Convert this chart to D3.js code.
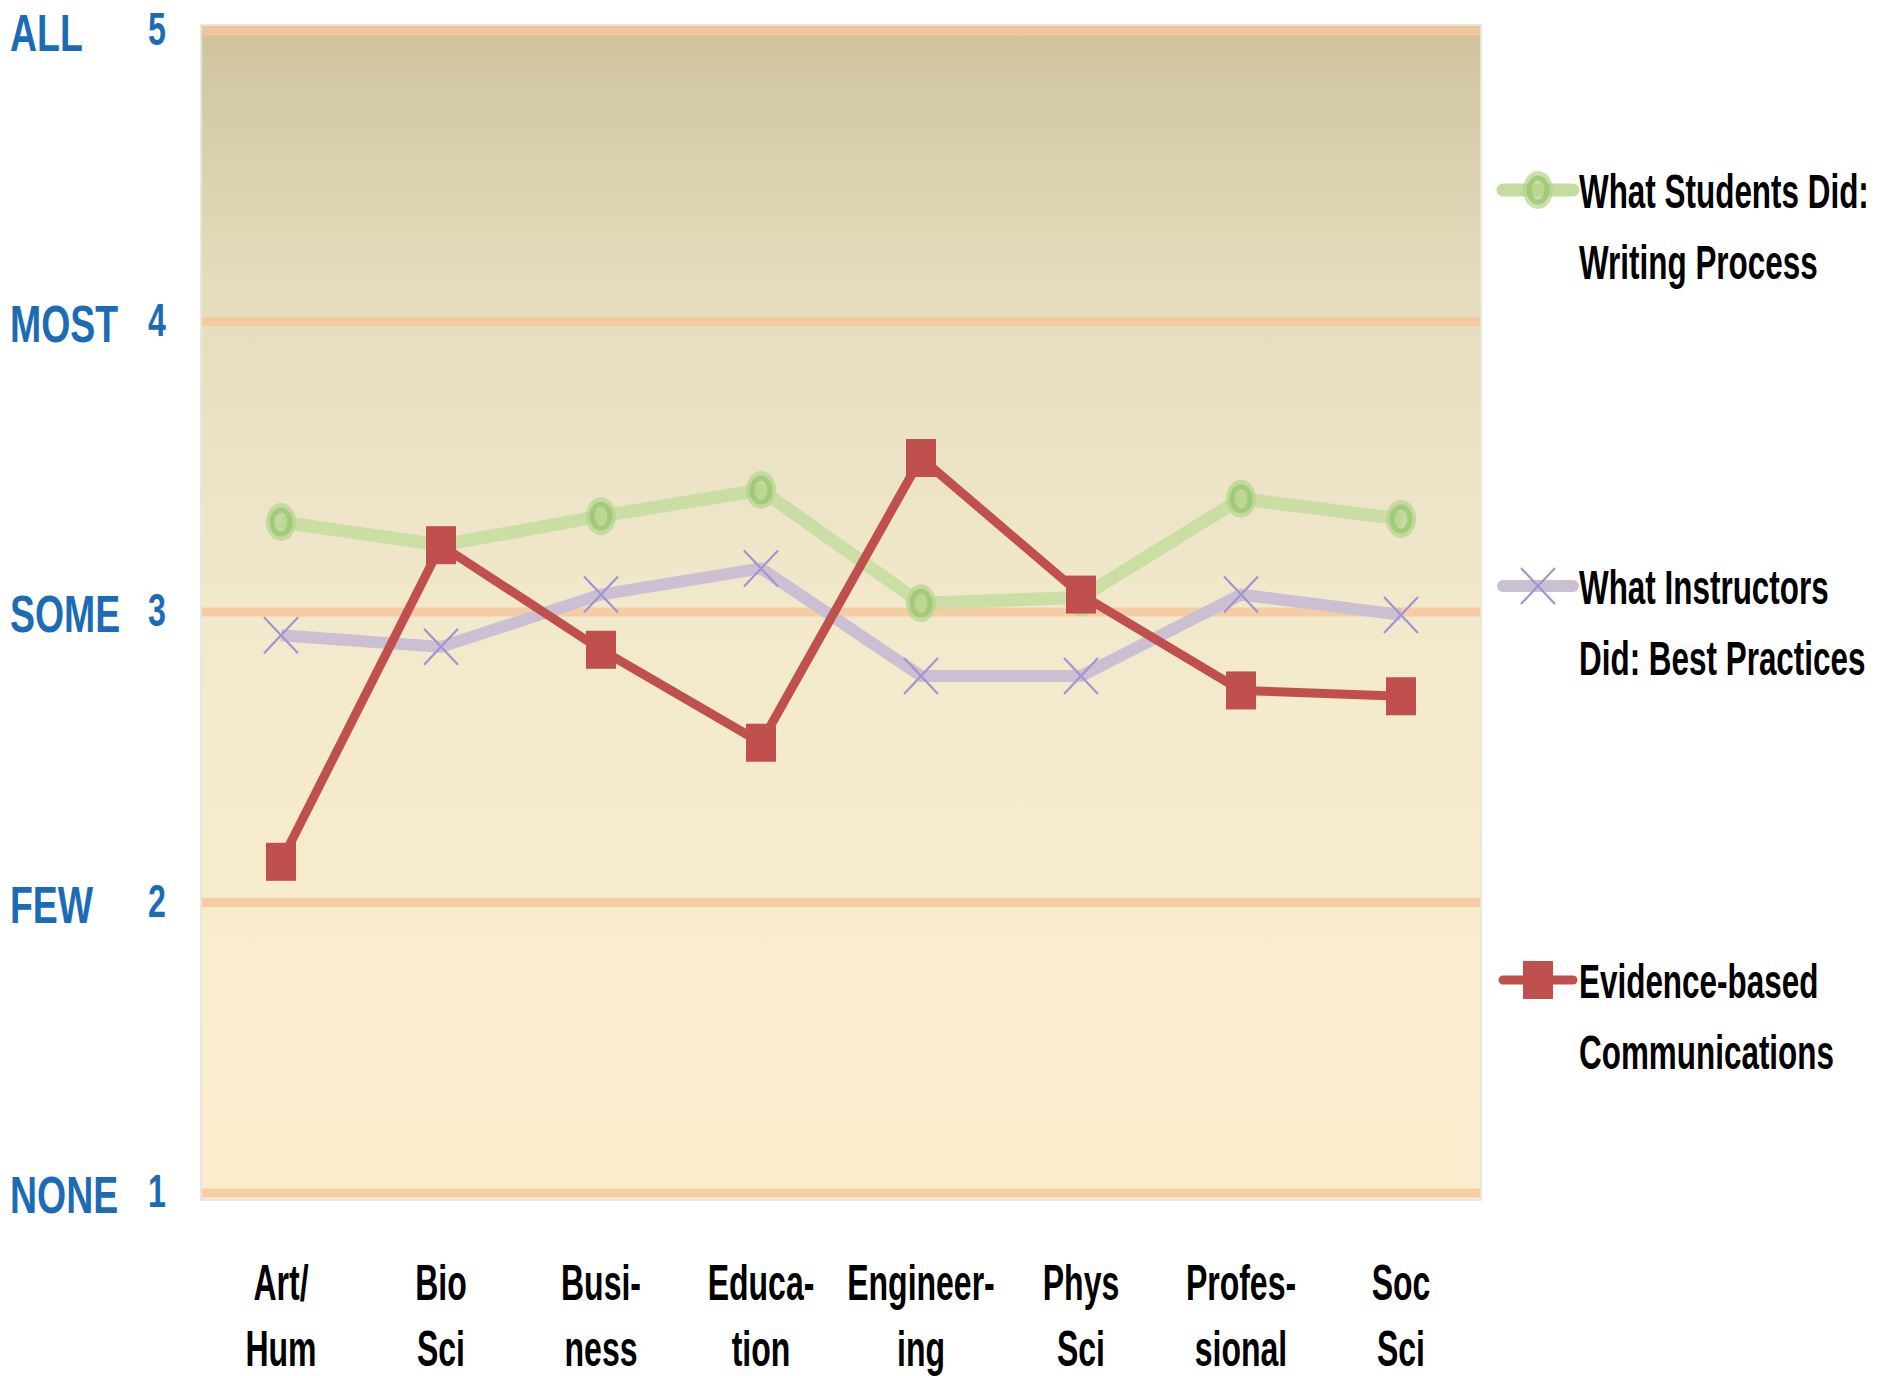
<!DOCTYPE html>
<html lang="en">
<head>
    <meta charset="UTF-8" />
    <title>Writing practices by discipline</title>
    <script src="https://d3js.org/d3.v7.min.js"></script>
    <style>
        body {
            margin: 0;
            background: #ffffff;
            font-family: "Liberation Sans", Arial, sans-serif;
        }
        svg {
            display: block;
        }
    </style>
</head>
<body>
<div id="chart"></div>

<script>
    // Chart data
    const categories = [
        ["Art/", "Hum"], ["Bio", "Sci"], ["Busi-", "ness"], ["Educa-", "tion"],
        ["Engineer-", "ing"], ["Phys", "Sci"], ["Profes-", "sional"], ["Soc", "Sci"]
    ];
    const yTicks = [1, 2, 3, 4, 5];
    const yWords = ["NONE", "FEW", "SOME", "MOST", "ALL"];

    const students = [3.31, 3.23, 3.33, 3.42, 3.03, 3.05, 3.39, 3.32];
    const instructors = [2.92, 2.88, 3.06, 3.15, 2.78, 2.78, 3.06, 2.99];
    const evidence = [2.14, 3.23, 2.87, 2.55, 3.53, 3.06, 2.73, 2.71];

    const legendStudents = ["What Students Did:", "Writing Process"];
    const legendInstructors = ["What Instructors", "Did: Best Practices"];
    const legendEvidence = ["Evidence-based", "Communications"];

    // Dimensions
    const width = 1883, height = 1376;
    const plot = { left: 201, right: 1481, top: 25, bottom: 1200 };

    const svg = d3.select("#chart").append("svg")
        .attr("width", width)
        .attr("height", height);

    const x = d3.scalePoint()
        .domain(d3.range(categories.length))
        .range([plot.left, plot.right])
        .padding(0.5);
    const y = d3.scaleLinear().domain([1, 5]).range([1193, 31]);

    // Background gradient
    const defs = svg.append("defs");
    const grad = defs.append("linearGradient")
        .attr("id", "bg").attr("x1", 0).attr("y1", 0).attr("x2", 0).attr("y2", 1);
    grad.append("stop").attr("offset", "0%").attr("stop-color", "#cfc39d");
    grad.append("stop").attr("offset", "22%").attr("stop-color", "#e4dcbd");
    grad.append("stop").attr("offset", "50%").attr("stop-color", "#f2e9cd");
    grad.append("stop").attr("offset", "100%").attr("stop-color", "#fdedcf");

    svg.append("rect")
        .attr("x", plot.left)
        .attr("y", plot.top)
        .attr("width", plot.right - plot.left)
        .attr("height", plot.bottom - plot.top)
        .attr("fill", "url(#bg)")
        .attr("stroke", "#e9e5df")
        .attr("stroke-width", 2);

    // Gridlines
    svg.append("g").selectAll("line")
        .data(yTicks)
        .join("line")
        .attr("x1", plot.left + 1)
        .attr("x2", plot.right - 1)
        .attr("y1", d => y(d))
        .attr("y2", d => y(d))
        .attr("stroke", "#f7c79c")
        .attr("stroke-opacity", 0.85)
        .attr("stroke-width", 9);

    // Squeezed text helper (the original type is very condensed)
    function squeezed(g, str, tx, ty, opts) {
        return g.append("g")
            .attr("transform", `translate(${tx},${ty})`)
            .append("text")
            .attr("transform", `scale(${opts.sx},1)`)
            .attr("text-anchor", opts.anchor || "start")
            .attr("font-size", opts.size)
            .attr("font-weight", "bold")
            .attr("fill", opts.fill)
            .text(str);
    }

    // Y axis labels
    const gY = svg.append("g");
    yTicks.forEach((t, i) => {
        squeezed(gY, yWords[i], 10, y(t) + 20, { sx: 0.72, size: 52, fill: "#1b6cb5" });
        squeezed(gY, String(t), 157, y(t) + 14, { sx: 0.7, size: 46, fill: "#1b6cb5", anchor: "middle" });
    });

    // X axis labels
    const gX = svg.append("g");
    categories.forEach((c, i) => {
        squeezed(gX, c[0], x(i), 1300, { sx: 0.64, size: 50, fill: "#000", anchor: "middle" });
        squeezed(gX, c[1], x(i), 1366, { sx: 0.64, size: 50, fill: "#000", anchor: "middle" });
    });

    const line = d3.line()
        .x((d, i) => x(i))
        .y(d => y(d));

    // Markers
    function circleMarker(g, cx, cy) {
        g.append("ellipse").attr("cx", cx).attr("cy", cy).attr("rx", 15).attr("ry", 19)
            .attr("fill", "#b4d48c").attr("opacity", 0.7);
        g.append("ellipse").attr("cx", cx).attr("cy", cy).attr("rx", 9).attr("ry", 12)
            .attr("fill", "none").attr("stroke", "#94c46e").attr("stroke-width", 5).attr("opacity", 0.7);
    }
    function crossMarker(g, cx, cy) {
        g.append("path")
            .attr("d", `M${cx - 17},${cy - 18}L${cx + 17},${cy + 18}M${cx - 17},${cy + 18}L${cx + 17},${cy - 18}`)
            .attr("stroke", "#a194cf")
            .attr("stroke-width", 2.2)
            .attr("fill", "none");
    }
    function squareMarker(g, cx, cy) {
        g.append("rect").attr("x", cx - 15).attr("y", cy - 19).attr("width", 30).attr("height", 38)
            .attr("fill", "#c0504d");
    }

    // Series: students
    const gS = svg.append("g");
    gS.append("path").datum(students).attr("d", line)
        .attr("fill", "none").attr("stroke", "#c4dc9e").attr("stroke-width", 13)
        .attr("stroke-linejoin", "round").attr("opacity", 0.85);
    students.forEach((v, i) => circleMarker(gS, x(i), y(v)));

    // Series: instructors
    const gI = svg.append("g");
    gI.append("path").datum(instructors).attr("d", line)
        .attr("fill", "none").attr("stroke", "#cbbfd3").attr("stroke-width", 12)
        .attr("stroke-linejoin", "round");
    instructors.forEach((v, i) => crossMarker(gI, x(i), y(v)));

    // Series: evidence-based
    const gE = svg.append("g");
    gE.append("path").datum(evidence).attr("d", line)
        .attr("fill", "none").attr("stroke", "#c0504d").attr("stroke-width", 9)
        .attr("stroke-linejoin", "miter");
    evidence.forEach((v, i) => squareMarker(gE, x(i), y(v)));

    // Legend
    const legend = [
        { text: legendStudents, cy: 190, kind: "circle", color: "#c4dc9e", w: 13 },
        { text: legendInstructors, cy: 586, kind: "cross", color: "#cbbfd3", w: 12 },
        { text: legendEvidence, cy: 980, kind: "square", color: "#c0504d", w: 9 }
    ];
    const gL = svg.append("g");
    legend.forEach(item => {
        gL.append("line")
            .attr("x1", 1503).attr("x2", 1573)
            .attr("y1", item.cy).attr("y2", item.cy)
            .attr("stroke", item.color).attr("stroke-width", item.w)
            .attr("stroke-linecap", "round");
        if (item.kind === "circle") circleMarker(gL, 1538, item.cy);
        if (item.kind === "cross") crossMarker(gL, 1538, item.cy);
        if (item.kind === "square") squareMarker(gL, 1538, item.cy);
        squeezed(gL, item.text[0], 1579, item.cy + 18, { sx: 0.655, size: 48, fill: "#000" });
        squeezed(gL, item.text[1], 1579, item.cy + 89, { sx: 0.655, size: 48, fill: "#000" });
    });
</script>
</body>
</html>
